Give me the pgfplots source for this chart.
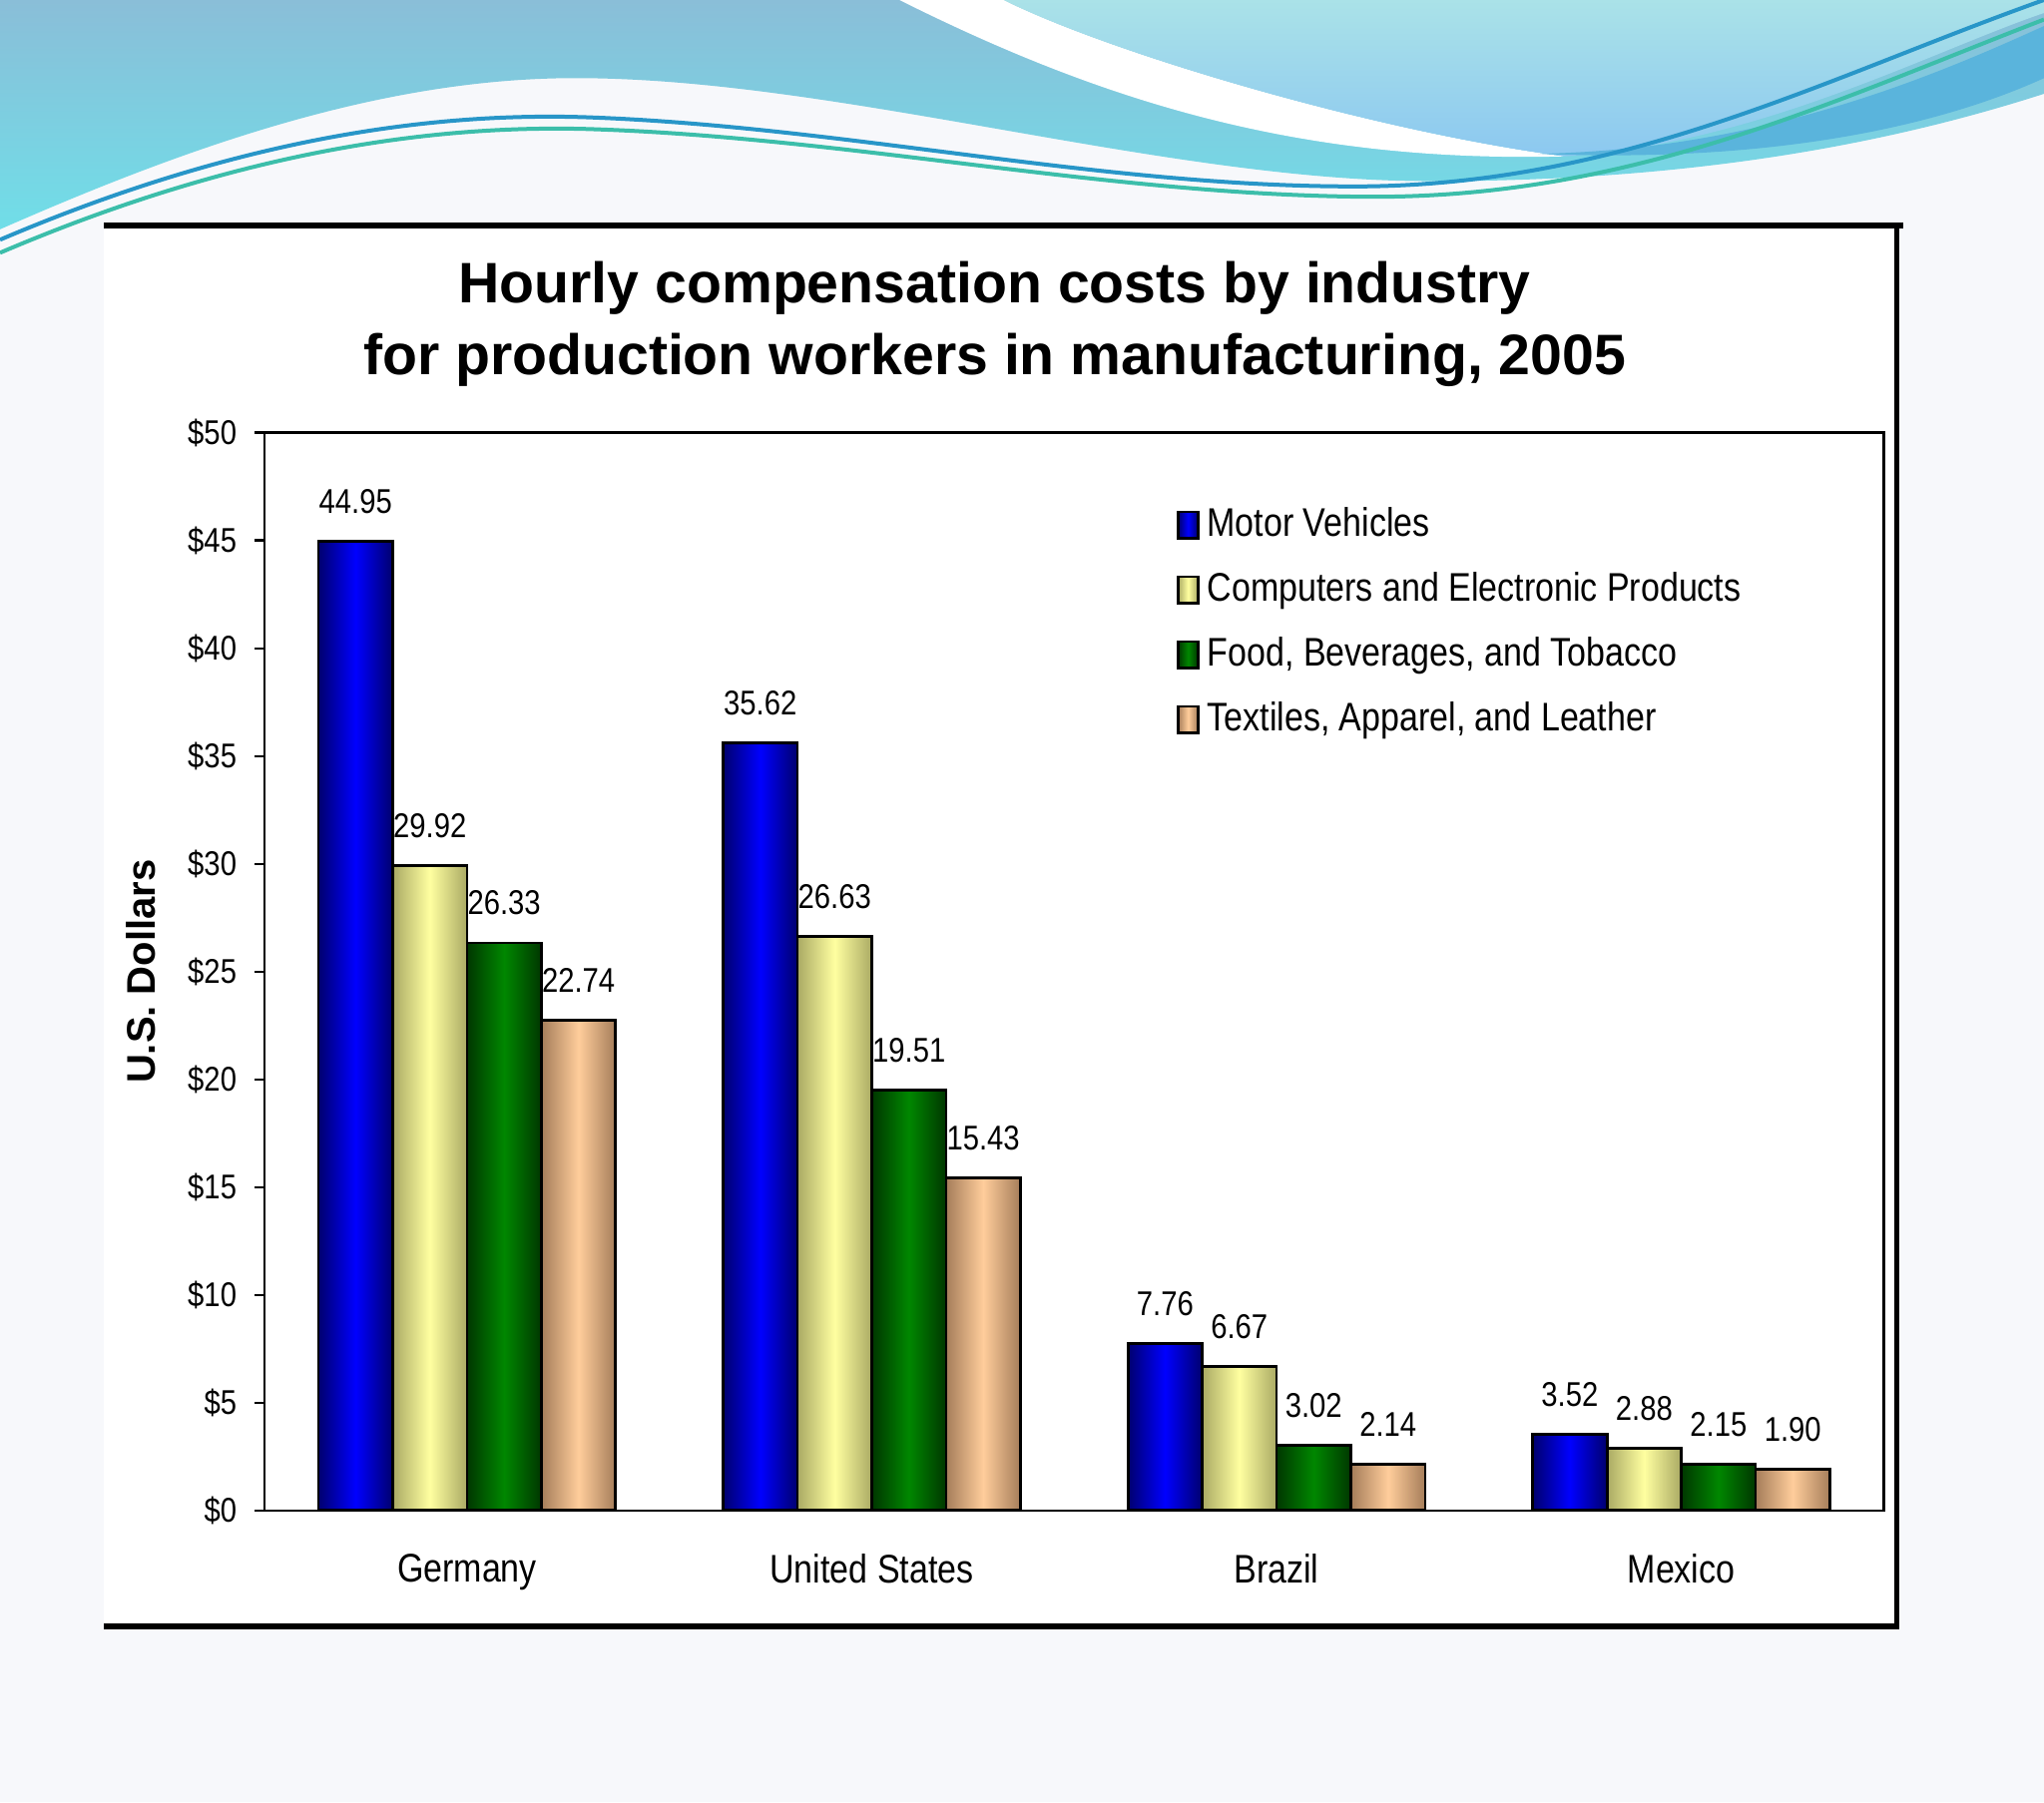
\documentclass[border=0pt]{standalone}
\usepackage{fontspec}
\setmainfont{Liberation Sans}
\newfontfamily\condfont{Liberation Sans}[FakeStretch=0.85]
\usepackage{pgfplots}
\pgfplotsset{compat=1.18}
\definecolor{bgc}{RGB}{247,248,251}
\definecolor{tealA}{RGB}{138,190,216}
\definecolor{tealB}{RGB}{112,222,232}
\definecolor{ltbA}{RGB}{170,226,232}
\definecolor{ltbB}{RGB}{140,200,240}
\definecolor{bandc}{RGB}{90,180,220}
\definecolor{lineA}{RGB}{40,150,200}
\definecolor{lineB}{RGB}{60,190,170}
\definecolor{mvE}{RGB}{0,0,110}
\definecolor{mvM}{RGB}{0,0,255}
\definecolor{ceE}{RGB}{170,170,100}
\definecolor{ceM}{RGB}{255,255,160}
\definecolor{fbE}{RGB}{0,55,0}
\definecolor{fbM}{RGB}{0,135,0}
\definecolor{taE}{RGB}{165,125,90}
\definecolor{taM}{RGB}{255,205,155}
\pgfplotsset{
  barsty/.style={draw=black, line width=0.7pt},
  mv/.style={left color=mvE, right color=mvE, middle color=mvM},
  ce/.style={left color=ceE, right color=ceE, middle color=ceM},
  fb/.style={left color=fbE, right color=fbE, middle color=fbM},
  ta/.style={left color=taE, right color=taE, middle color=taM},
  leg/.style={legend image code/.code={\draw[##1, draw=black, line width=0.6pt] (0pt,-3.3pt) rectangle (5pt,3.3pt);}},
}
% one bar: style, shift, x, y
\newcommand{\bb}[4]{\addplot[barsty, #1, bar shift=#2, forget plot] coordinates {(#3,#4)};}
\begin{document}
\begin{tikzpicture}
\useasboundingbox (0,0) rectangle (512pt,451.6pt);
\fill[bgc] (0,0) rectangle (512pt,451.6pt);
\begin{scope}[x=0.32653pt,y=-0.32653pt,yshift=451.6pt]
  % decorative waves
  \shade[top color=tealA, bottom color=tealB]
    (0,0) -- (1568,0) -- (1568,72)
    .. controls (1450,110) and (1300,139) .. (1100,139)
    .. controls (900,140) and (650,62) .. (450,60)
    .. controls (300,58) and (150,110) .. (0,176) -- cycle;
  \fill[white] (690,0) .. controls (850,80) and (1000,125) .. (1200,120)
    .. controls (1050,100) and (850,40) .. (770,0) -- cycle;
  \shade[top color=ltbA, bottom color=ltbB]
    (770,0) .. controls (850,40) and (1050,100) .. (1200,120)
    .. controls (1350,110) and (1480,40) .. (1568,10) -- (1568,0) -- cycle;
  \fill[bandc] (1180,118) .. controls (1350,115) and (1480,60) .. (1568,20)
    -- (1568,60) .. controls (1480,100) and (1350,125) .. (1180,118) -- cycle;
  \draw[lineA, line width=1pt] (0,184) .. controls (150,120) and (300,85) .. (450,90)
    .. controls (650,97) and (850,145) .. (1050,143)
    .. controls (1250,140) and (1400,60) .. (1568,0);
  \draw[lineB, line width=1pt] (0,194) .. controls (150,130) and (300,95) .. (450,99)
    .. controls (650,105) and (850,150) .. (1050,151)
    .. controls (1250,152) and (1400,80) .. (1568,15);
  % chart frame
  \fill[white] (80,173) rectangle (1455,1248);
  \draw[black, line width=1.3pt] (80,173) -- (1460,173);
  \draw[black, line width=1.3pt] (1455,173) -- (1455,1248);
  \draw[black, line width=1.3pt] (80,1248) -- (1457,1248);
  % title
  \node[font=\bfseries\fontsize{14.3}{16}\selectfont] at (763,221) {Hourly compensation costs by industry};
  \node[font=\bfseries\fontsize{14.3}{16}\selectfont] at (763,276) {for production workers in manufacturing, 2005};
\end{scope}
\begin{axis}[
  at={(66.29pt,73.14pt)}, anchor=south west,
  scale only axis, width=405.55pt, height=270.04pt,
  xmin=-0.5, xmax=3.5, ymin=0, ymax=50,
  ybar, bar width=0.1836,
  clip=false,
  axis line style={black, line width=0.6pt},
  /pgf/number format/assume math mode=true,
  ytick={0,5,...,50},
  yticklabels={\$0,\$5,\$10,\$15,\$20,\$25,\$30,\$35,\$40,\$45,\$50},
  yticklabel style={font=\condfont\fontsize{8.6}{10}\selectfont, xshift=-1pt},
  xtick={0,1,2,3},
  xticklabels={Germany,United States,Brazil,Mexico},
  xticklabel style={font=\condfont\fontsize{10}{12}\selectfont, yshift=-5pt},
  x tick style={draw=none},
  minor xtick={-0.5,0.5,1.5,2.5,3.5},
  minor x tick style={black, line width=0.6pt, yshift=1.5pt},
  y tick style={black, line width=0.6pt},
  tick align=outside,
  major tick length=2.5pt,
  minor tick length=5pt,
  xtick pos=bottom, ytick pos=left,
  ylabel={U.S. Dollars},
  ylabel style={font=\bfseries\fontsize{10}{12}\selectfont, at={(axis description cs:-0.0764,0.5)}, anchor=center},
  nodes near coords={\pgfmathprintnumber[fixed,fixed zerofill,precision=2]{\pgfplotspointmeta}},
  every node near coord/.append style={font=\condfont\fontsize{8.6}{10}\selectfont, anchor=center, yshift=10pt},
  legend style={at={(0.5556,0.946)}, anchor=north west, draw=none, fill=none,
    font=\condfont\fontsize{10}{12}\selectfont, row sep=3.5pt},
  legend cell align=left,
]
\addlegendimage{barsty, mv, leg}
\addlegendimage{barsty, ce, leg}
\addlegendimage{barsty, fb, leg}
\addlegendimage{barsty, ta, leg}
% Motor Vehicles
\bb{mv}{-0.2754}{0}{44.95}
\bb{mv}{-0.2754}{1}{35.62}
\bb{mv}{-0.2754}{2}{7.76}
\bb{mv}{-0.2754}{3}{3.52}
% Computers and Electronic Products
\bb{ce}{-0.0918}{0}{29.92}
\bb{ce}{-0.0918}{1}{26.63}
\bb{ce}{-0.0918}{2}{6.67}
\bb{ce}{-0.0918}{3}{2.88}
% Food, Beverages, and Tobacco
\bb{fb}{0.0918}{0}{26.33}
\bb{fb}{0.0918}{1}{19.51}
\bb{fb}{0.0918}{2}{3.02}
\bb{fb}{0.0918}{3}{2.15}
% Textiles, Apparel, and Leather
\bb{ta}{0.2754}{0}{22.74}
\bb{ta}{0.2754}{1}{15.43}
\bb{ta}{0.2754}{2}{2.14}
\bb{ta}{0.2754}{3}{1.90}
\legend{Motor Vehicles,Computers and Electronic Products,{Food, Beverages, and Tobacco},{Textiles, Apparel, and Leather}}
\end{axis}
\end{tikzpicture}
\end{document}
